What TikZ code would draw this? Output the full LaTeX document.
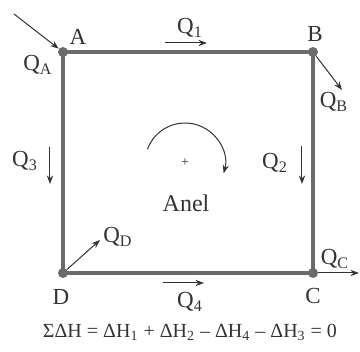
\documentclass[tikz,border=0pt]{standalone}
\usepackage{fontspec}
\setmainfont{Liberation Serif}
\usetikzlibrary{positioning,arrows.meta,calc,backgrounds}
\definecolor{pipegrey}{gray}{0.42}
\definecolor{inkgrey}{gray}{0.2}
\tikzset{
  fig/.style={font=\fontsize{11.5}{13}\selectfont,text=inkgrey},
  pipe/.style={draw=pipegrey,line width=1.8pt},
  junc/.style={circle,fill=pipegrey,inner sep=0pt,minimum size=5pt},
  flow/.style={-{Stealth[length=1.5mm,width=1.1mm]},line width=0.5pt,draw=inkgrey},
  lbl/.style={inner sep=1pt},
}
\begin{document}
\begin{tikzpicture}[fig,x=0.5pt,y=-0.5pt,
  eqn/.style={font=\fontsize{10}{12}\selectfont,inner sep=1pt}]
\useasboundingbox (0,0) rectangle (360,352);

% =======================  loop: junctions and pipes  =====================
\node[junc] (A) at (63,52)   {};
\node[junc] (B) at (313,52)  {};
\node[junc] (C) at (313,273) {};
\node[junc] (D) at (63,273)  {};
\begin{scope}[on background layer]
  \draw[pipe] (A.center) -- (B.center) -- (C.center) -- (D.center) -- cycle;
\end{scope}
\node[lbl] (labA) at (78,37)  {A};
\node[lbl] (labB) at (315,34) {B};
\node[lbl] (labC) at (313,296) {C};
\node[lbl] (labD) at (61,297) {D};

% =======================  outer flows at the junctions  ==================
\coordinate (qa) at (14,14);
\coordinate (qb) at (342,90);
\coordinate (qc) at (359,273);
\coordinate (qd) at (100,240);
\draw[flow] (qa) -- (A);
\draw[flow] (B) -- (qb);
\draw[flow] (C) -- (qc);
\draw[flow] (D) -- (qd);
\node[lbl] (labQA) at (38,65)   {Q\textsubscript{A}};
\node[lbl] (labQB) at (334,102) {Q\textsubscript{B}};
\node[lbl] (labQC) at (335,259) {Q\textsubscript{C}};
\node[lbl] (labQD) at (118,237) {Q\textsubscript{D}};

% =======================  flows in the pipes  ============================
\coordinate (q1s) at (165,43);  \coordinate (q1e) at (207,43);
\coordinate (q2s) at (302,146); \coordinate (q2e) at (302,184);
\coordinate (q3s) at (50,147);  \coordinate (q3e) at (50,184);
\coordinate (q4s) at (163,283); \coordinate (q4e) at (204,283);
\draw[flow] (q1s) -- (q1e);
\draw[flow] (q2s) -- (q2e);
\draw[flow] (q3s) -- (q3e);
\draw[flow] (q4s) -- (q4e);
\node[lbl] (labQ1) at (190,28)  {Q\textsubscript{1}};
\node[lbl] (labQ2) at (275,163) {Q\textsubscript{2}};
\node[lbl] (labQ3) at (25,161)  {Q\textsubscript{3}};
\node[lbl] (labQ4) at (190,302) {Q\textsubscript{4}};

% =======================  loop sense and balance  ========================
\coordinate (ctr) at (185,163);
\node[lbl,font=\fontsize{7}{8}\selectfont] (plus) at (ctr) {+};
\draw[flow] ($(ctr)+(160:20pt)$) arc[start angle=160,end angle=-15,radius=20pt];
\node[lbl,font=\fontsize{12}{14}\selectfont] (anel) at (186,203) {Anel};
\node[eqn] (bal) at (190,332)
  {ΣΔH = ΔH\textsubscript{1} + ΔH\textsubscript{2} – ΔH\textsubscript{4} – ΔH\textsubscript{3} = 0};

\end{tikzpicture}
\end{document}
